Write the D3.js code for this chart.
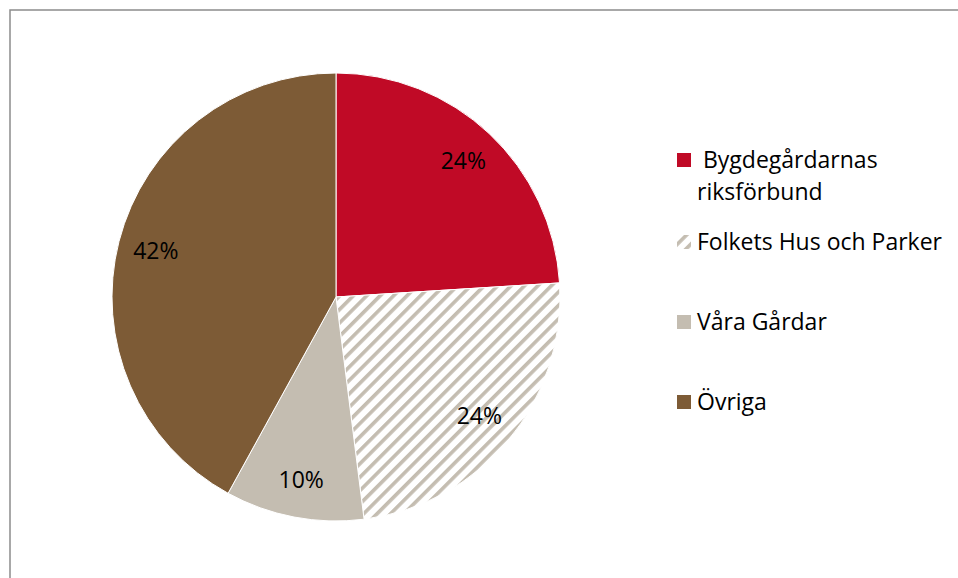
<!DOCTYPE html>
<html>
<head>
<meta charset="utf-8">
<script src="https://cdn.jsdelivr.net/npm/d3@7"></script>
<style>
  body { margin: 0; background: #fff; }
  svg { display: block; }
</style>
</head>
<body>
<svg width="958" height="578"></svg>
<script>
// share data
var categories = ['Bygdegårdarnas riksförbund', 'Folkets Hus och Parker', 'Våra Gårdar', 'Övriga'];
var shares = [24, 24, 10, 42];
var colors = ['#c00a26', 'url(#hatch)', '#c4bdb1', '#7d5b36'];
var legendLines = [[' Bygdegårdarnas', 'riksförbund'], ['Folkets Hus och Parker'], ['Våra Gårdar'], ['Övriga']];

var data = categories.map(function(c, i) {
    return { name: c, value: shares[i], color: colors[i], lines: legendLines[i] };
});

var svg = d3.select('svg'),
    font = '"Open Sans", "Liberation Sans", sans-serif';

// hatch pattern for the second slice
var defs = svg.append('defs');
var pat = defs.append('pattern')
    .attr('id', 'hatch')
    .attr('patternUnits', 'userSpaceOnUse')
    .attr('width', 9.5).attr('height', 9.5)
    .attr('patternTransform', 'rotate(45)');
pat.append('rect').attr('width', 9.5).attr('height', 9.5).attr('fill', '#fff');
pat.append('rect').attr('x', 0).attr('width', 3.6).attr('height', 9.5).attr('fill', '#c4bdb1');

// chart frame
svg.append('rect')
    .attr('x', 10).attr('y', 10)
    .attr('width', 1000).attr('height', 1000)
    .attr('fill', 'none')
    .attr('stroke', '#8c8c8c')
    .attr('stroke-width', 1.5);

var cx = 336, cy = 297, radius = 224;

var pie = d3.pie().sort(null).value(function(d) { return d.value; });
var arc = d3.arc().innerRadius(0).outerRadius(radius);
var labelArc = d3.arc().innerRadius(186).outerRadius(186);

var g = svg.append('g').attr('transform', 'translate(' + cx + ',' + cy + ')');

var slices = g.selectAll('.arc')
    .data(pie(data))
    .enter().append('g')
    .attr('class', 'arc');

slices.append('path')
    .attr('d', arc)
    .attr('fill', function(d) { return d.data.color; })
    .attr('stroke', '#fff')
    .attr('stroke-width', 1);

slices.append('text')
    .attr('transform', function(d) { return 'translate(' + labelArc.centroid(d) + ')'; })
    .attr('dy', '0.35em')
    .attr('text-anchor', 'middle')
    .style('font-family', font)
    .style('font-size', '23px')
    .attr('fill', '#000')
    .text(function(d) { return d.data.value + '%'; });

// legend
var legendY = [160, 242, 322, 402];
var legend = svg.append('g');
var items = legend.selectAll('.item')
    .data(data)
    .enter().append('g')
    .attr('class', 'item')
    .attr('transform', function(d, i) { return 'translate(677,' + legendY[i] + ')'; });

items.append('rect')
    .attr('x', 0).attr('y', -7)
    .attr('width', 14).attr('height', 14)
    .attr('fill', function(d) { return d.color; });

items.each(function(d) {
    var t = d3.select(this).append('text')
        .style('font-family', font)
        .style('font-size', '23px')
        .attr('fill', '#000')
        .attr('xml:space', 'preserve');
    d.lines.forEach(function(line, j) {
        t.append('tspan')
            .attr('x', 20)
            .attr('y', j * 32)
            .attr('dy', '0.35em')
            .text(line);
    });
});
</script>
</body>
</html>
